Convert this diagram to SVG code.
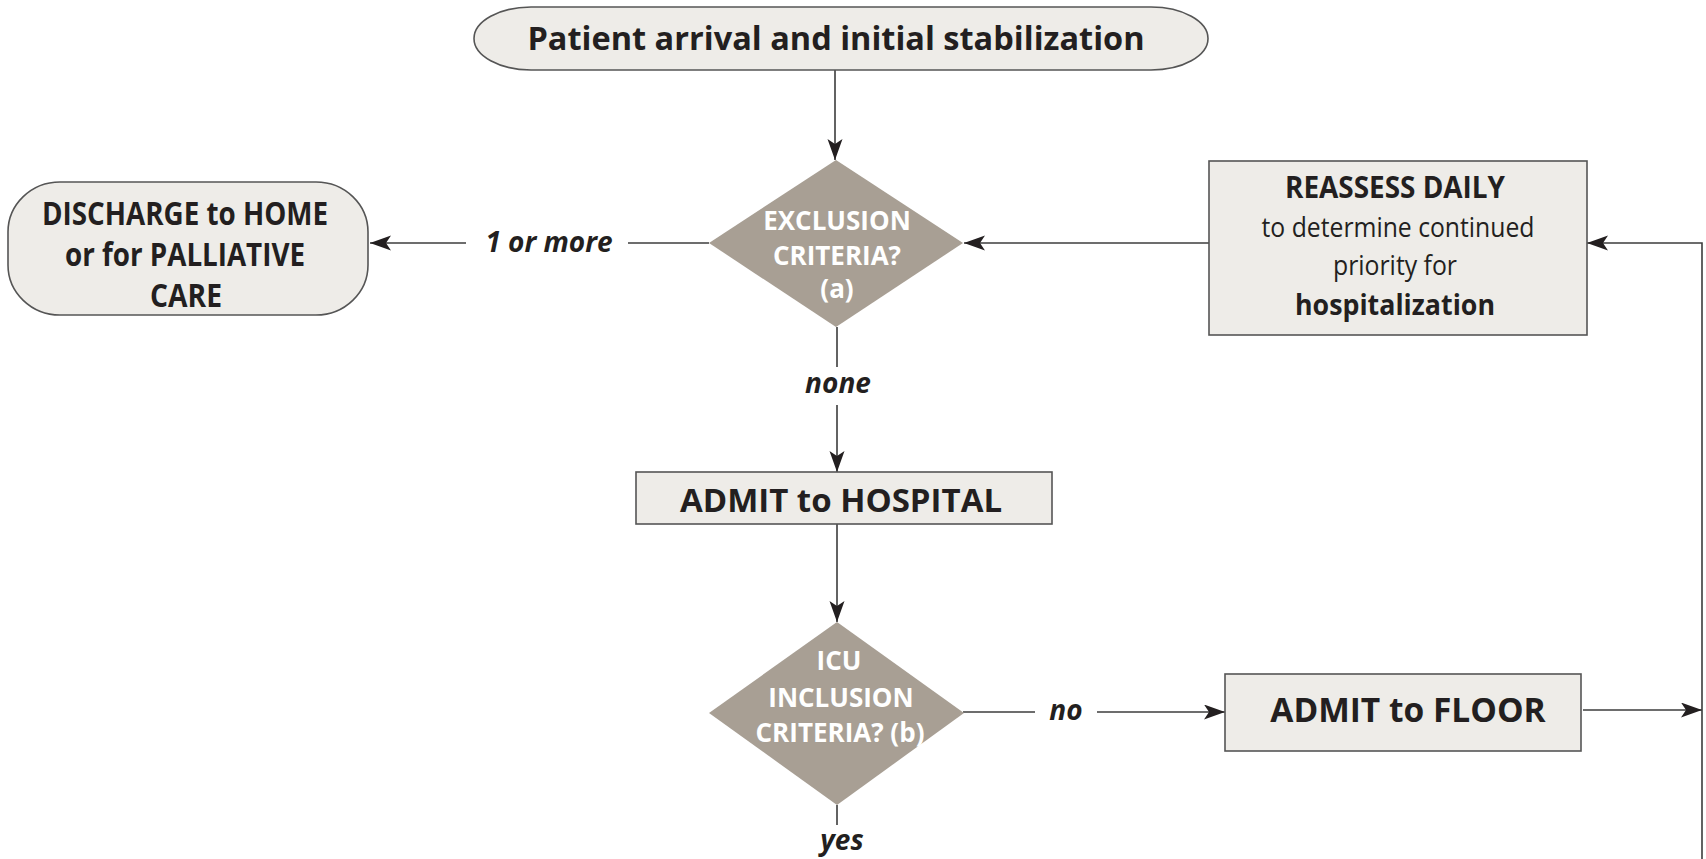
<svg xmlns="http://www.w3.org/2000/svg" width="1706" height="859" viewBox="0 0 1706 859">
<defs>
<style>
.box{fill:#eeece8;stroke:#555;stroke-width:1.6}
.dia{fill:#a89f94}
.t{font-family:"Open Sans","Liberation Sans",sans-serif;font-weight:700;fill:#231f20;text-anchor:middle}
.r{font-weight:400}
.w{fill:#ffffff}
.lbl{font-family:"Open Sans","Liberation Sans",sans-serif;font-weight:700;font-style:italic;font-size:28px;fill:#231f20;text-anchor:middle}
.ln{fill:none;stroke:#3c3c3c;stroke-width:1.6}
</style>
<marker id="ah" markerUnits="userSpaceOnUse" markerWidth="22" markerHeight="16" refX="21" refY="7.5" orient="auto">
<path d="M0,0 L21,7.5 L0,15 L5,7.5 Z" fill="#231f20"/>
</marker>
</defs>
<rect width="1706" height="859" fill="#ffffff"/>
<g id="connectors">
<line class="ln" x1="835" y1="70" x2="835" y2="160" marker-end="url(#ah)"/>
<line class="ln" x1="709" y1="243" x2="628" y2="243"/>
<line class="ln" x1="466" y1="243" x2="370" y2="243" marker-end="url(#ah)"/>
<line class="ln" x1="1209" y1="243" x2="964" y2="243" marker-end="url(#ah)"/>
<line class="ln" x1="837" y1="327" x2="837" y2="367"/>
<line class="ln" x1="837" y1="405" x2="837" y2="472" marker-end="url(#ah)"/>
<line class="ln" x1="837" y1="524" x2="837" y2="622" marker-end="url(#ah)"/>
<line class="ln" x1="963" y1="712" x2="1035" y2="712"/>
<line class="ln" x1="1097" y1="712" x2="1225" y2="712" marker-end="url(#ah)"/>
<line class="ln" x1="837" y1="805" x2="837" y2="825"/>
<line class="ln" x1="1583" y1="710" x2="1702" y2="710" marker-end="url(#ah)"/>
<polyline class="ln" points="1702,859 1702,243 1587,243" marker-end="url(#ah)"/>
<text class="lbl" x="549" y="252">1 or more</text>
<text class="lbl" x="838" y="393">none</text>
<text class="lbl" x="1066" y="720">no</text>
<text class="lbl" x="842" y="850">yes</text>
</g>
<g id="start">
<rect class="box" x="474" y="7" width="734" height="63" rx="57" ry="31.5"/>
<text class="t" x="836" y="50" font-size="32.5">Patient arrival and initial stabilization</text>
</g>
<g id="exclusion">
<polygon class="dia" points="836,160 963,243 836,327 709,243"/>
<text class="t w" x="837" y="230" font-size="26">EXCLUSION</text>
<text class="t w" x="837" y="265" font-size="26">CRITERIA?</text>
<text class="t w" x="837" y="298" font-size="26">(a)</text>
</g>
<g id="discharge">
<rect class="box" x="8" y="182" width="360" height="133" rx="52" ry="50"/>
<text class="t" x="185" y="225" font-size="32" textLength="286" lengthAdjust="spacingAndGlyphs">DISCHARGE to HOME</text>
<text class="t" x="185" y="266" font-size="32" textLength="240" lengthAdjust="spacingAndGlyphs">or for PALLIATIVE</text>
<text class="t" x="186" y="307" font-size="32" textLength="72" lengthAdjust="spacingAndGlyphs">CARE</text>
</g>
<g id="reassess">
<rect class="box" x="1209" y="161" width="378" height="174"/>
<text class="t" x="1395" y="198" font-size="30" textLength="220" lengthAdjust="spacingAndGlyphs">REASSESS DAILY</text>
<text class="t r" x="1398" y="237" font-size="27" textLength="273" lengthAdjust="spacingAndGlyphs">to determine continued</text>
<text class="t r" x="1395" y="275" font-size="27" textLength="124" lengthAdjust="spacingAndGlyphs">priority for</text>
<text class="t" x="1395" y="315" font-size="28" textLength="200" lengthAdjust="spacingAndGlyphs">hospitalization</text>
</g>
<g id="admit-hospital">
<rect class="box" x="636" y="472" width="416" height="52"/>
<text class="t" x="841" y="512" font-size="33">ADMIT to HOSPITAL</text>
</g>
<g id="icu">
<polygon class="dia" points="837,622 964,713 837,805 709,713"/>
<text class="t w" x="839" y="670" font-size="26">ICU</text>
<text class="t w" x="841" y="707" font-size="26">INCLUSION</text>
<text class="t w" x="840" y="742" font-size="26">CRITERIA? (b)</text>
</g>
<g id="admit-floor">
<rect class="box" x="1225" y="674" width="356" height="77"/>
<text class="t" x="1408" y="722" font-size="33.5">ADMIT to FLOOR</text>
</g>
</svg>
